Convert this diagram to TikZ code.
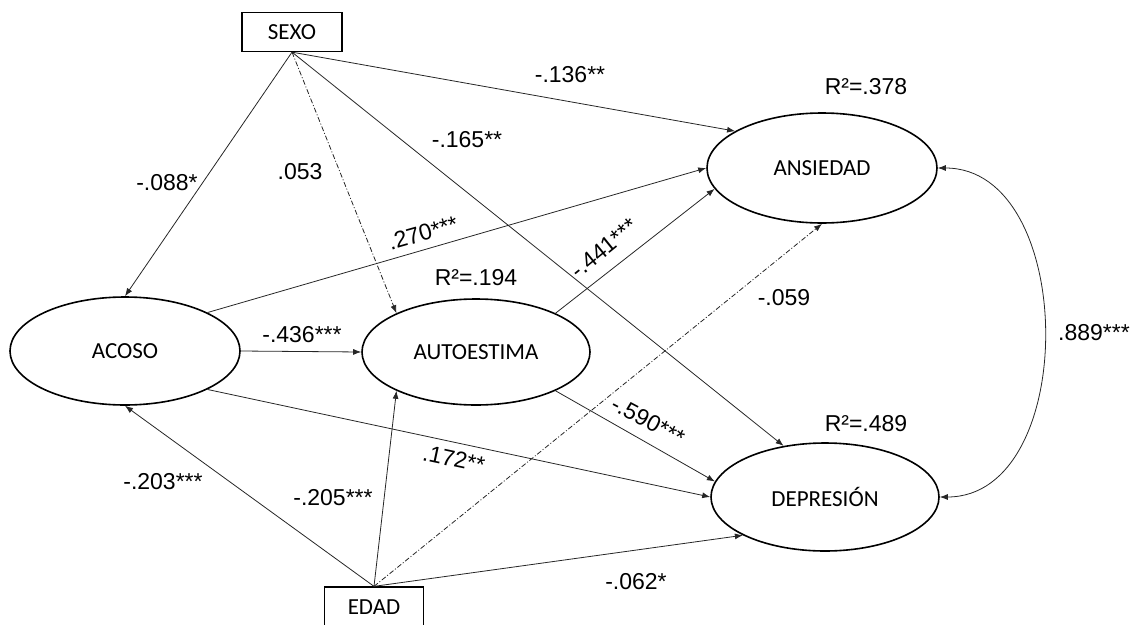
\documentclass[tikz,border=0pt]{standalone}
\usepackage{fontspec}
\setmainfont{Liberation Sans}
\newfontfamily\calibri{Carlito}
\usetikzlibrary{shapes.geometric,arrows.meta}
\tikzset{
  latent/.style={ellipse, draw, line width=1.6pt, inner sep=0pt, font=\calibri\fontsize{23}{26}\selectfont},
  observed/.style={rectangle, draw, line width=1.3pt, minimum width=100pt, minimum height=39pt, inner sep=0pt, font=\calibri\fontsize{23}{26}\selectfont},
  arr/.style={-{Latex[length=8pt,width=6pt]}, line width=0.8pt, draw=black!85},
  nsarr/.style={arr, dash pattern=on 5pt off 2pt on 1pt off 2pt},
  coef/.style={font=\fontsize{23}{26}\selectfont, inner sep=0pt},
}

\begin{document}
\begin{tikzpicture}[x=1pt,y=-1pt]
    \useasboundingbox (0,0) rectangle (1132,624);
    % observed variables
    \node[observed] (sexo) at (292,32) {SEXO};
    \node[observed, minimum width=99pt, minimum height=40pt] (edad) at (374,607) {EDAD};
    % latent variables
    \node[latent, minimum width=230pt, minimum height=108pt] (acoso) at (125,351) {ACOSO};
    \node[latent, minimum width=228pt, minimum height=106pt] (auto) at (476,352) {AUTOESTIMA};
    \node[latent, minimum width=230pt, minimum height=110pt] (ans) at (822,168) {ANSIEDAD};
    \node[latent, minimum width=228pt, minimum height=108pt] (dep) at (825,497) {DEPRESIÓN};
    % paths from sexo
    \draw[arr] (sexo.south) -- (acoso.north);
    \draw[nsarr] (sexo.south) -- (auto.154);
    \draw[arr] (sexo.south) -- (ans.157);
    \draw[arr] (sexo.south) -- (dep.129);
    % paths from acoso and autoestima
    \draw[arr] (acoso.east) -- (auto.west);
    \draw[arr] (acoso.25) -- (ans.west);
    \draw[arr] (acoso.-25) -- (dep.west);
    \draw[arr] (auto.26) -- (ans.191);
    \draw[arr] (auto.-26) -- (dep.172);
    % paths from edad
    \draw[arr] (edad.north) -- (acoso.south);
    \draw[arr] (edad.north) -- (auto.206);
    \draw[nsarr] (edad.north) -- (ans.south);
    \draw[arr] (edad.north) -- (dep.205);
    % covariance
    \draw[arr, {Latex[length=8pt,width=6pt]}-{Latex[length=8pt,width=6pt]}] (ans.east) .. controls +(140,0) and +(140,0) .. (dep.east);
    % coefficients
    \node[coef] (c136) at (570,75) {-.136**};
    \node[coef] (c165) at (467,140) {-.165**};
    \node[coef] (c053) at (300,172) {.053};
    \node[coef] (c088) at (167,183) {-.088*};
    \node[coef, rotate=16] (c270) at (423,233) {.270***};
    \node[coef, rotate=39] (c441) at (604,248) {-.441***};
    \node[coef] (c059) at (784,298) {-.059};
    \node[coef] (c889) at (1094,333) {.889***};
    \node[coef] (c436) at (302,335) {-.436***};
    \node[coef, rotate=-28] (c590) at (648,421) {-.590***};
    \node[coef, rotate=-12] (c172) at (454,459) {.172**};
    \node[coef] (c205) at (333,498) {-.205***};
    \node[coef] (c203) at (163,482) {-.203***};
    \node[coef] (c062) at (636,582) {-.062*};
    % explained variance
    \node[coef] (r194) at (476,278) {R²=.194};
    \node[coef] (r378) at (866,87) {R²=.378};
    \node[coef] (r489) at (866,424) {R²=.489};
\end{tikzpicture}
\end{document}
